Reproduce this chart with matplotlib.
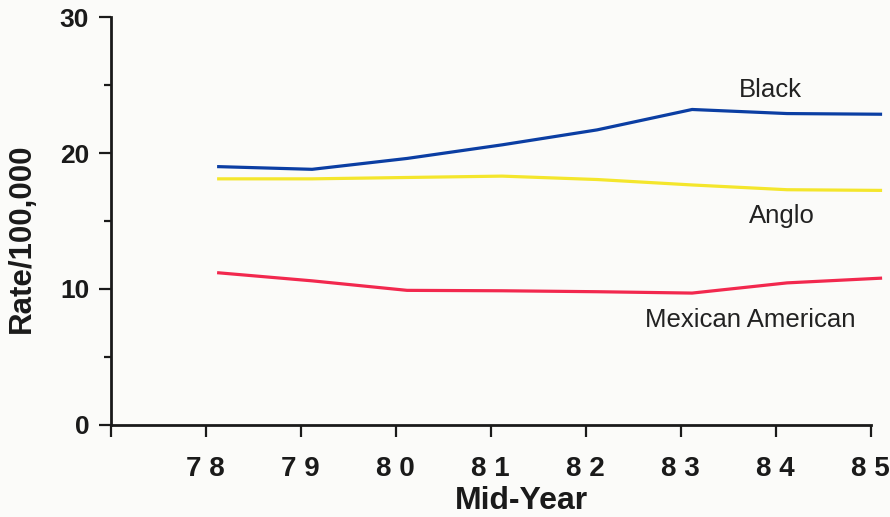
import matplotlib
matplotlib.use("Agg")
import matplotlib.pyplot as plt
from matplotlib.ticker import FixedLocator

# Mortality rate per 100,000 by mid-year
years = [78, 79, 80, 81, 82, 83, 84, 85]
year_labels = ["7 8", "7 9", "8 0", "8 1", "8 2", "8 3", "8 4", "8 5"]
black = [19.0, 18.8, 19.6, 20.6, 21.7, 23.2, 22.9, 22.85]
anglo = [18.1, 18.1, 18.2, 18.3, 18.05, 17.65, 17.3, 17.25]
mexican_american = [11.2, 10.6, 9.9, 9.87, 9.8, 9.7, 10.45, 10.8]

series_names = ["Black", "Anglo", "Mexican American"]
series_colors = ["#0b3ea3", "#f4e62c", "#f2284e"]

# rates are recorded at mid-year, slightly after each year tick
MID_OFFSET = 0.12

BG = "#fbfbf9"
INK = "#1a1a1a"
SANS = ["Liberation Sans", "DejaVu Sans"]

W, H = 890, 517
fig = plt.figure(figsize=(W / 100, H / 100), dpi=100, facecolor=BG)
ax = fig.add_axes([110.7 / W, 92 / H, 8.2 * 95 / W, 408 / H])
ax.set_facecolor(BG)

xs = [y + MID_OFFSET for y in years]
for vals, col in zip([black, anglo, mexican_american], series_colors):
    ax.plot(xs, vals, color=col, lw=2.3, solid_capstyle="butt", clip_on=False)

ax.set_xlim(77, 85.2)
ax.set_ylim(0, 30)

for side in ["top", "right"]:
    ax.spines[side].set_visible(False)
for side in ["left", "bottom"]:
    ax.spines[side].set_linewidth(2.0)
    ax.spines[side].set_color(INK)
ax.spines["bottom"].set_bounds(77, 85)
ax.spines["left"].set_bounds(0, 30)

ax.xaxis.set_major_locator(FixedLocator([77] + years))
ax.set_xticklabels([""] + year_labels, family=SANS, fontweight="bold",
                   fontsize=20, color=INK)
ax.set_yticks([0, 10, 20, 30])
ax.set_yticklabels(["0", "10", "20", "30"], family=SANS, fontweight="bold",
                   fontsize=19, color=INK)
ax.yaxis.set_minor_locator(FixedLocator([5, 15, 25]))

ax.tick_params(axis="x", direction="out", length=8.5, width=1.6,
               color=INK, pad=14)
ax.tick_params(axis="y", which="major", direction="out", length=8.5,
               width=1.6, color=INK, pad=7)
ax.tick_params(axis="y", which="minor", direction="out", length=5,
               width=1.6, color=INK)

# Axis titles
fig.text(521 / W, 1 / H, "Mid-Year", family=SANS, fontweight="bold",
         fontsize=23, color=INK, ha="center", va="bottom")
fig.text(22 / W, 1 - 238 / H, "Rate/100,000", family=SANS, fontweight="bold",
         fontsize=22.5, color=INK, ha="center", va="center", rotation=90)

# Series labels placed beside the right end of each line
label_pos = [(83.94, 24.6), (84.07, 15.4), (83.73, 7.7)]
for name, (lx, ly) in zip(series_names, label_pos):
    ax.text(lx, ly, name, family=SANS, fontsize=18.5, color="#222222",
            ha="center", va="center")

fig.savefig("out.png", dpi=100, facecolor=BG)
